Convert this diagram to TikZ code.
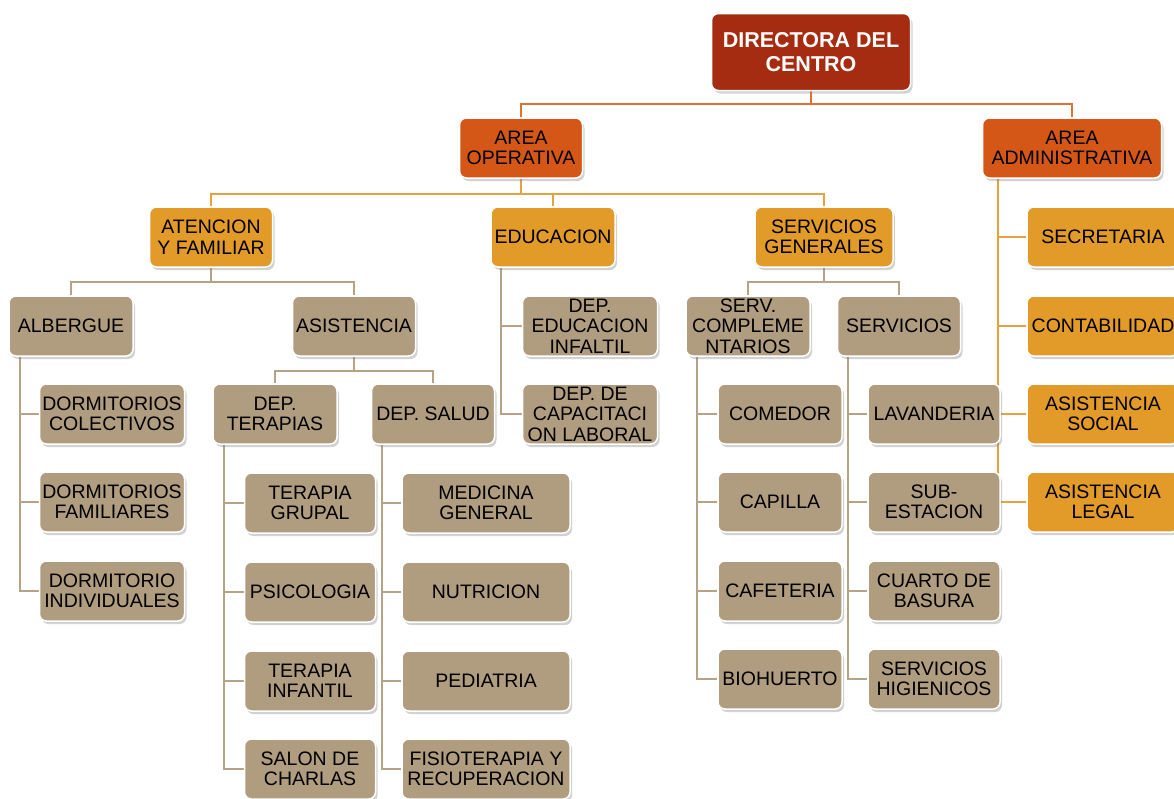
\documentclass[tikz,border=0pt]{standalone}
\usepackage{fontspec}
\setmainfont{Liberation Sans}
\usetikzlibrary{shadows}
\pgfdeclarelayer{background}
\pgfsetlayers{background,main}
\definecolor{cDir}{RGB}{165,44,16}
\definecolor{cArea}{RGB}{213,87,24}
\definecolor{cLvl}{RGB}{226,154,40}
\definecolor{cTan}{RGB}{176,156,126}
\definecolor{cL1}{RGB}{226,112,50}
\definecolor{cL2}{RGB}{229,162,62}
\definecolor{cLT}{RGB}{182,162,132}
\newcommand\boxfont{\fontsize{19.5}{20.5}\selectfont}
\newcommand\dirfont{\fontsize{21.5}{24}\selectfont\bfseries}
\tikzset{
  bx/.style={draw=white, line width=1.5pt, rounded corners=7pt, inner sep=0pt,
    align=center, font=\boxfont, text=black, minimum height=60pt,
    drop shadow={opacity=0.35, shadow xshift=2pt, shadow yshift=-3pt}},
  dirbox/.style={bx, fill=cDir, text=white, font=\dirfont},
  areabox/.style={bx, fill=cArea},
  lvlbox/.style={bx, fill=cLvl},
  tanbox/.style={bx, fill=cTan},
  w/.style={minimum width=#1pt},
  l1/.style={draw=cL1, line width=2pt},
  l2/.style={draw=cL2, line width=2pt},
  lt/.style={draw=cLT, line width=2pt},
}
\begin{document}
\begin{tikzpicture}[x=1pt,y=-1pt]
\clip (0,0) rectangle (1174,798);
% level 0/1
\node[dirbox, w=199, minimum height=77pt] (dir) at (811,52) {DIRECTORA DEL\\CENTRO};
\node[areabox, w=123] (op) at (521,148) {AREA\\OPERATIVA};
\node[areabox, w=179] (adm) at (1072,148) {AREA\\ADMINISTRATIVA};
% level 2
\node[lvlbox, w=123] (aten) at (211,237) {ATENCION\\Y FAMILIAR};
\node[lvlbox, w=124] (edu) at (553,237) {EDUCACION};
\node[lvlbox, w=138] (sg) at (824,237) {SERVICIOS\\GENERALES};
% admin children
\node[lvlbox, w=152] (sec) at (1103,237) {SECRETARIA};
\node[lvlbox, w=152] (con) at (1103,326) {CONTABILIDAD};
\node[lvlbox, w=152] (asoc) at (1103,414) {ASISTENCIA\\SOCIAL};
\node[lvlbox, w=152] (aleg) at (1103,502) {ASISTENCIA\\LEGAL};
% level 3
\node[tanbox, w=124] (alb) at (71,326) {ALBERGUE};
\node[tanbox, w=123] (asi) at (354,326) {ASISTENCIA};
\node[tanbox, w=135] (dei) at (590,326) {DEP.\\EDUCACION\\INFALTIL};
\node[tanbox, w=135] (dcl) at (590,414) {DEP. DE\\CAPACITACI\\ON LABORAL};
\node[tanbox, w=124] (scm) at (748,326) {SERV.\\COMPLEME\\NTARIOS};
\node[tanbox, w=123] (ser) at (899,326) {SERVICIOS};
% albergue children
\node[tanbox, w=145] (dc) at (112,414) {DORMITORIOS\\COLECTIVOS};
\node[tanbox, w=145] (df) at (112,502) {DORMITORIOS\\FAMILIARES};
\node[tanbox, w=145] (di) at (112,591) {DORMITORIO\\INDIVIDUALES};
% asistencia children
\node[tanbox, w=124] (ter) at (275,414) {DEP.\\TERAPIAS};
\node[tanbox, w=123] (sal) at (433,414) {DEP. SALUD};
\node[tanbox, w=131] (tg) at (310,503) {TERAPIA\\GRUPAL};
\node[tanbox, w=131] (ps) at (310,592) {PSICOLOGIA};
\node[tanbox, w=131] (ti) at (310,681) {TERAPIA\\INFANTIL};
\node[tanbox, w=131] (sc) at (310,769) {SALON DE\\CHARLAS};
\node[tanbox, w=168] (mg) at (486,503) {MEDICINA\\GENERAL};
\node[tanbox, w=168] (nu) at (486,592) {NUTRICION};
\node[tanbox, w=168] (pe) at (486,681) {PEDIATRIA};
\node[tanbox, w=168] (fi) at (486,769) {FISIOTERAPIA Y\\RECUPERACION};
% servicios generales children
\node[tanbox, w=124] (com) at (780,414) {COMEDOR};
\node[tanbox, w=124] (cap) at (780,502) {CAPILLA};
\node[tanbox, w=124] (caf) at (780,591) {CAFETERIA};
\node[tanbox, w=124] (bio) at (780,679) {BIOHUERTO};
\node[tanbox, w=132] (lav) at (934,414) {LAVANDERIA};
\node[tanbox, w=132] (sub) at (934,502) {SUB-\\ESTACION};
\node[tanbox, w=132] (cb) at (934,591) {CUARTO DE\\BASURA};
\node[tanbox, w=132] (sh) at (934,679) {SERVICIOS\\HIGIENICOS};
\begin{pgfonlayer}{background}
\fill[white] (0,0) rectangle (1174,798);
\draw[l1] (dir.south) -- ++(0,13) -| (op.north);
\draw[l1] (dir.south) -- ++(0,13) -| (adm.north);
\draw[l2] (op.south) -- ++(0,15) -| (aten.north);
\draw[l2] (op.south) -- ++(0,15) -| (edu.north);
\draw[l2] (op.south) -- ++(0,15) -| (sg.north);
\foreach \c in {sec,con,asoc,aleg}
  \draw[l2] ([xshift=16pt]adm.south west) |- (\c.west);
\draw[lt] (aten.south) -- ++(0,14) -| (alb.north);
\draw[lt] (aten.south) -- ++(0,14) -| (asi.north);
\draw[lt] (asi.south) -- ++(0,14) -| (ter.north);
\draw[lt] (asi.south) -- ++(0,14) -| (sal.north);
\draw[lt] (sg.south) -- ++(0,14) -| (scm.north);
\draw[lt] (sg.south) -- ++(0,14) -| (ser.north);
\foreach \c in {dc,df,di}
  \draw[lt] ([xshift=12pt]alb.south west) |- (\c.west);
\foreach \c in {dei,dcl}
  \draw[lt] ([xshift=11pt]edu.south west) |- (\c.west);
\foreach \c in {tg,ps,ti,sc}
  \draw[lt] ([xshift=12pt]ter.south west) |- (\c.west);
\foreach \c in {mg,nu,pe,fi}
  \draw[lt] ([xshift=11pt]sal.south west) |- (\c.west);
\foreach \c in {com,cap,caf,bio}
  \draw[lt] ([xshift=12pt]scm.south west) |- (\c.west);
\foreach \c in {lav,sub,cb,sh}
  \draw[lt] ([xshift=11pt]ser.south west) |- (\c.west);
\end{pgfonlayer}
\end{tikzpicture}
\end{document}
